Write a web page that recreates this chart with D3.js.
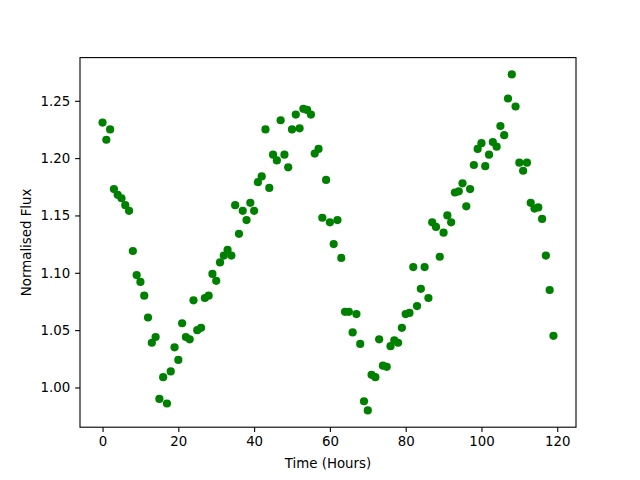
<!DOCTYPE html>
<html><head><meta charset="utf-8">
<script src="https://cdn.jsdelivr.net/npm/d3@7"></script>
<style>
body{margin:0;background:#fff;}
text{font-family:"DejaVu Sans",sans-serif;}
</style></head>
<body>
<svg id="c" width="640" height="480"></svg>
<script>
const hours = d3.range(0, 120);
const flux = [
1.231,1.216,1.225,1.173,1.168,1.165,1.159,1.154,1.119,1.098,
1.092,1.080,1.061,1.039,1.044,0.990,1.009,0.986,1.014,1.035,
1.024,1.056,1.044,1.042,1.076,1.050,1.052,1.078,1.080,1.099,
1.093,1.109,1.115,1.120,1.115,1.159,1.134,1.154,1.146,1.161,
1.154,1.179,1.184,1.225,1.174,1.203,1.198,1.233,1.203,1.192,
1.225,1.238,1.226,1.243,1.242,1.238,1.204,1.208,1.148,1.181,
1.144,1.125,1.146,1.113,1.066,1.066,1.048,1.064,1.038,0.988,
0.980,1.011,1.009,1.042,1.019,1.018,1.036,1.041,1.039,1.052,
1.064,1.065,1.105,1.071,1.086,1.105,1.078,1.144,1.140,1.114,
1.135,1.150,1.144,1.170,1.171,1.178,1.158,1.173,1.194,1.208,
1.213,1.193,1.203,1.214,1.210,1.228,1.220,1.252,1.273,1.245,
1.196,1.189,1.196,1.161,1.156,1.157,1.147,1.115,1.085,1.045];
const xTicks = [0,20,40,60,80,100,120];
const yTicks = [1.00,1.05,1.10,1.15,1.20,1.25];
const xLabel = "Time (Hours)";
const yLabel = "Normalised Flux";

const L=80, T=57.6, R=576, B=427.2;
const svg = d3.select("#c");
const xmin=d3.min(hours), xmax=d3.max(hours), xr=xmax-xmin;
const ymin=d3.min(flux), ymax=d3.max(flux), yr=ymax-ymin;
const x = d3.scaleLinear().domain([xmin-0.05*xr, xmax+0.05*xr]).range([L,R]);
const y = d3.scaleLinear().domain([ymin-0.05*yr, ymax+0.05*yr]).range([B,T]);

svg.append("g").selectAll("circle").data(hours).join("circle")
  .attr("cx", (d)=>x(d)).attr("cy", (d,i)=>y(flux[i])).attr("r", 4.1)
  .attr("fill", "#008000");

const xa = svg.append("g").attr("transform", `translate(0,${B})`)
  .call(d3.axisBottom(x).tickValues(xTicks).tickFormat(d3.format("d")).tickSize(4.9).tickPadding(4.9));
const ya = svg.append("g").attr("transform", `translate(${L},0)`)
  .call(d3.axisLeft(y).tickValues(yTicks).tickFormat(d3.format(".2f")).tickSize(4.9).tickPadding(4.9));
[xa,ya].forEach(a=>{
  a.select(".domain").remove();
  a.selectAll("text").attr("font-size","13.33px").attr("fill","#000").attr("font-family","DejaVu Sans");
  a.selectAll("line").attr("stroke","#000").attr("stroke-width",1.1);
});
svg.append("rect").attr("x",L).attr("y",T).attr("width",R-L).attr("height",B-T)
  .attr("fill","none").attr("stroke","#000").attr("stroke-width",1.1);

svg.append("text").attr("x",(L+R)/2).attr("y",468).attr("text-anchor","middle")
  .attr("font-size","13.33px").text(xLabel);
svg.append("text").attr("transform",`translate(31,${(T+B)/2}) rotate(-90)`).attr("text-anchor","middle")
  .attr("font-size","13.33px").text(yLabel);
</script>
</body></html>
